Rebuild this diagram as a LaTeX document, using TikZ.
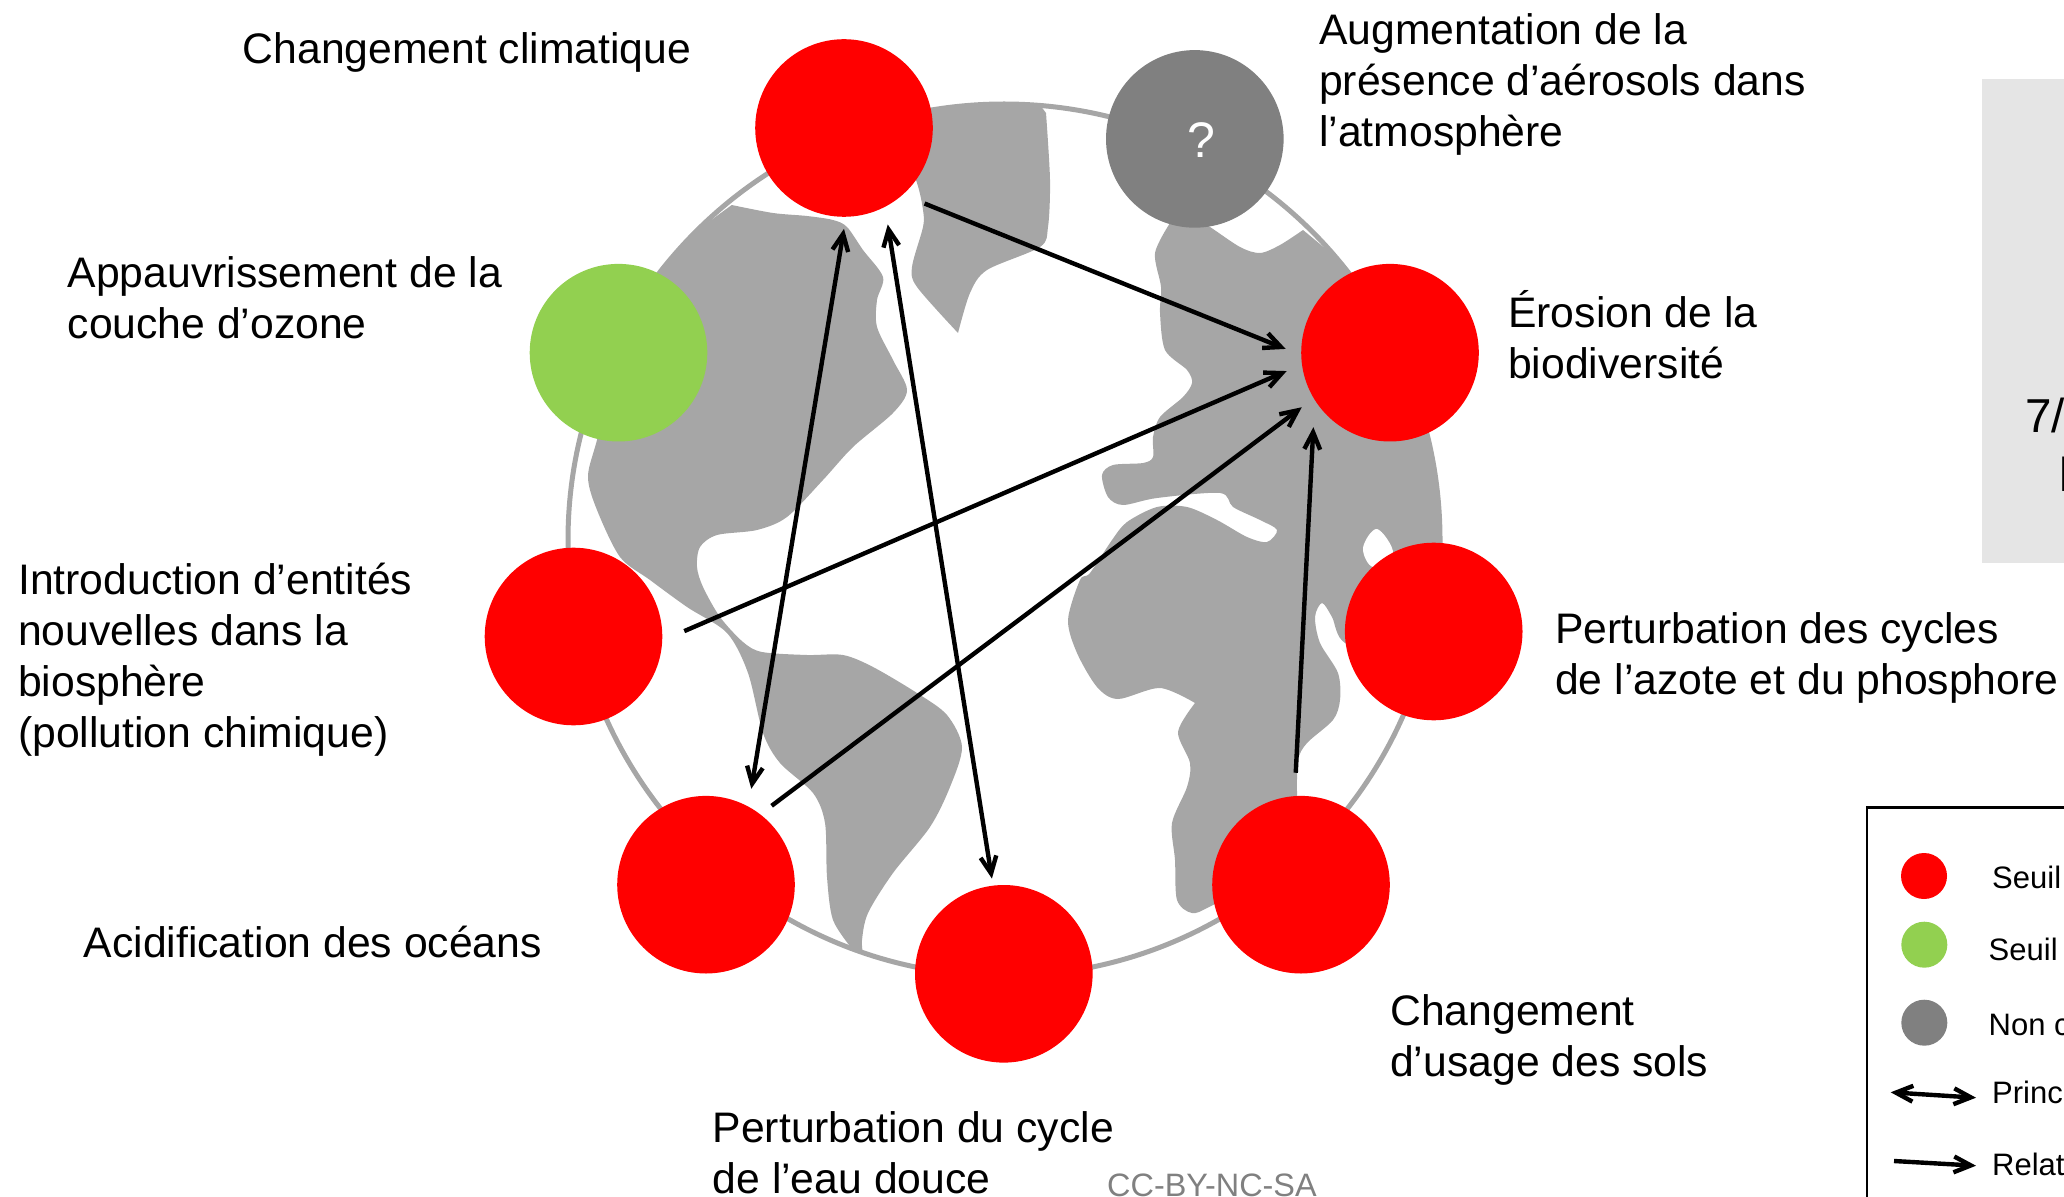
\documentclass[tikz,border=0pt]{standalone}
\usepackage{fontspec}
\setmainfont{Liberation Sans}
\usetikzlibrary{arrows.meta}

\begin{document}
\begin{tikzpicture}[
        x=0.5pt, y=-0.5pt,
        line width=2.2pt,
        >={Straight Barb[length=8.5pt,width=10.5pt,angle'=50]},
        land/.style = {fill=landgrey, draw=none},
        seuil/.style = {circle, minimum size=88.8pt, inner sep=0pt, draw=none},
        puce/.style = {circle, minimum size=23pt, inner sep=0pt, draw=none},
        etiquette/.style = {anchor=base west, inner sep=0pt, align=left,
          font=\fontsize{21.35}{25.5}\selectfont},
        legende/.style = {anchor=base west, inner sep=0pt,
          font=\fontsize{15.5}{18}\selectfont}
        ]
        \definecolor{landgrey}{HTML}{A6A6A6}
        \definecolor{rouge}{HTML}{FF0000}
        \definecolor{vert}{HTML}{92D050}
        \definecolor{gris}{HTML}{808080}
        \definecolor{panneau}{HTML}{E5E5E5}
        \useasboundingbox (0,0) rectangle (2064,1197);
        \clip (0,0) rectangle (2064,1197);

        \fill[panneau] (1982,79) rectangle (2064,563);
        \draw[landgrey, line width=2.5pt] (1004,540) circle [radius=218pt];

        % continents
        \fill[land] plot[smooth, tension=.5] coordinates {(731.7,205) (773,213) (807,216) (833,220) (847,227) (863,250) (883,277) (877,300) (877,327) (893,360) (907,390) (893,413) (853,447) (823,480) (787,517) (757,530) (717,535) (700,547) (697,567) (703,587) (720,617) (743,642) (762,652) (807,655) (843,655) (873,667) (917,693) (947,715) (962,747) (950,787) (930,827) (893,873) (868,913) (862,940) (863,953)}
          -- plot[smooth, tension=.5] coordinates {(853,950) (833,920) (827,877) (825,823) (813,793) (780,763) (763,733) (748,673) (727,633) (687,607) (650,580) (620,557) (597,510) (588,477) (597,440) (625,340)} -- (659,272) -- (695,232) -- cycle;
        \fill[land] plot[smooth, tension=.5] coordinates {(930,108) (1000,103) (1040,105)}
          -- plot[smooth, tension=.5] coordinates {(1046,113) (1050,180) (1048,227) (1040,247) (987,270) (970,293) (958,333)}
          -- plot[smooth, tension=.5] coordinates {(958,333) (917,287) (912,267) (923,227) (923,210) (917,183) (900,140)} -- cycle;
        \fill[land] plot[smooth, tension=.5] coordinates {(1170,223) (1155,253) (1161,287) (1160,313) (1165,350) (1187,370) (1192,383) (1183,397) (1160,417) (1153,437) (1153,457) (1143,463) (1113,465) (1102,475) (1108,497) (1123,505) (1157,498) (1220,493) (1233,507) (1260,520) (1277,530) (1267,542) (1247,537) (1217,520) (1187,507) (1157,507) (1127,522) (1112,540) (1090,573) (1080,580) (1068,620) (1077,653) (1097,687) (1118,699) (1160,688) (1195,703)}
          -- plot[smooth, tension=.5] coordinates {(1195,703) (1178,732) (1190,763) (1187,787) (1172,823) (1175,860) (1177,900) (1192,913) (1213,905) (1297,860)}
          -- plot[smooth, tension=.5] coordinates {(1297,793) (1298,760) (1307,743) (1333,720) (1340,700) (1338,673) (1320,643) (1315,617) (1322,603) (1332,617) (1345,643) (1400,660)}
          -- plot[smooth, tension=.5] coordinates {(1440,600) (1440,539) (1433,463) (1414,390) (1381,320) (1338,259)} -- (1303,230)
          -- plot[smooth, tension=.5] coordinates {(1303,230) (1280,245) (1260,253) (1240,247) (1210,227) (1190,215)} -- cycle;
        \fill[white] plot[smooth cycle, tension=.6] coordinates {(1377,529) (1363,548) (1373,567) (1393,553)};

        % limites
        \node[seuil, fill=rouge] (climat) at (844,128) {};
        \node[seuil, fill=gris] (aerosols) at (1194.8,138.9) {};
        \node[seuil, fill=vert] (ozone) at (618.5,352.7) {};
        \node[seuil, fill=rouge] (erosion) at (1390,352.7) {};
        \node[seuil, fill=rouge] (entites) at (573.5,636.5) {};
        \node[seuil, fill=rouge] (azote) at (1433.7,631.5) {};
        \node[seuil, fill=rouge] (acid) at (706,884.7) {};
        \node[seuil, fill=rouge] (usage) at (1301,884.7) {};
        \node[seuil, fill=rouge] (eau) at (1003.8,973.8) {};
        \node[anchor=base, inner sep=0pt, text=white, font=\fontsize{25}{29}\selectfont] (inconnu) at (1201,158) {?};

        \draw[->, shorten <=10.6pt, shorten >=7.2pt] (climat.-48) -- (erosion.181);
        \draw[->, shorten <=10.8pt, shorten >=7.2pt] (entites.-2.5) -- (erosion.188.5);
        \draw[->, shorten <=6pt, shorten >=6.4pt] (acid.52.9) -- (erosion.211.5);
        \draw[->, shorten <=10.6pt, shorten >=11.8pt] (usage.94.7) -- (erosion.214);
        \draw[<->, shorten <=5pt, shorten >=7.9pt] (climat.-89) -- (acid.62.9);
        \draw[<->, shorten <=7.8pt, shorten >=2.5pt] (climat.-63) -- (eau.97.3);

        \node[etiquette] (t1) at (240.5,64) {Changement climatique};
        \node[etiquette] (t2) at (1317,147) {Augmentation de la\\présence d’aérosols dans\\l’atmosphère};
        \node[etiquette] (t3) at (1506,379) {Érosion de la\\biodiversité};
        \node[etiquette] (t4) at (65.5,339) {Appauvrissement de la\\couche d’ozone};
        \node[etiquette] (t5) at (16,747) {Introduction d’entités\\nouvelles dans la\\biosphère\\(pollution chimique)};
        \node[etiquette] (t6) at (1553,694) {Perturbation des cycles\\de l’azote et du phosphore};
        \node[etiquette] (t7) at (81.5,957) {Acidification des océans};
        \node[etiquette] (t8) at (1388,1076) {Changement\\d’usage des sols};
        \node[etiquette] (t9) at (710.5,1193) {Perturbation du cycle\\de l’eau douce};
        \node[legende, text=gris, font=\fontsize{16.2}{18}\selectfont] (licence) at (1105,1196) {CC-BY-NC-SA};
        \node[etiquette, font=\fontsize{23.8}{28}\selectfont] (p1) at (2023,433) {7/};
        \node[etiquette, font=\fontsize{23.8}{28}\selectfont] (p2) at (2057,491) {l};

        % legende
        \draw[line width=1.2pt] (1867,1200) -- (1867,807.5) -- (2070,807.5);
        \node[puce, fill=rouge] (l1) at (1924,876) {};
        \node[puce, fill=vert] (l2) at (1924.3,944.7) {};
        \node[puce, fill=gris] (l3) at (1924.3,1022.7) {};
        \node[legende] (s1) at (1990,888) {Seuil};
        \node[legende] (s2) at (1986.5,960) {Seuil};
        \node[legende] (s3) at (1986.5,1035) {Non c};
        \node[legende] (s4) at (1990,1103) {Princ};
        \node[legende] (s5) at (1990,1175) {Relat};
        \coordinate (d1) at (1890.7,1092.3);
        \coordinate (d2) at (1976,1097.7);
        \coordinate (r1) at (1894,1161);
        \coordinate (r2) at (1976,1165.7);
        \draw[<->] (d1) -- (d2);
        \draw[->] (r1) -- (r2);
\end{tikzpicture}
\end{document}
